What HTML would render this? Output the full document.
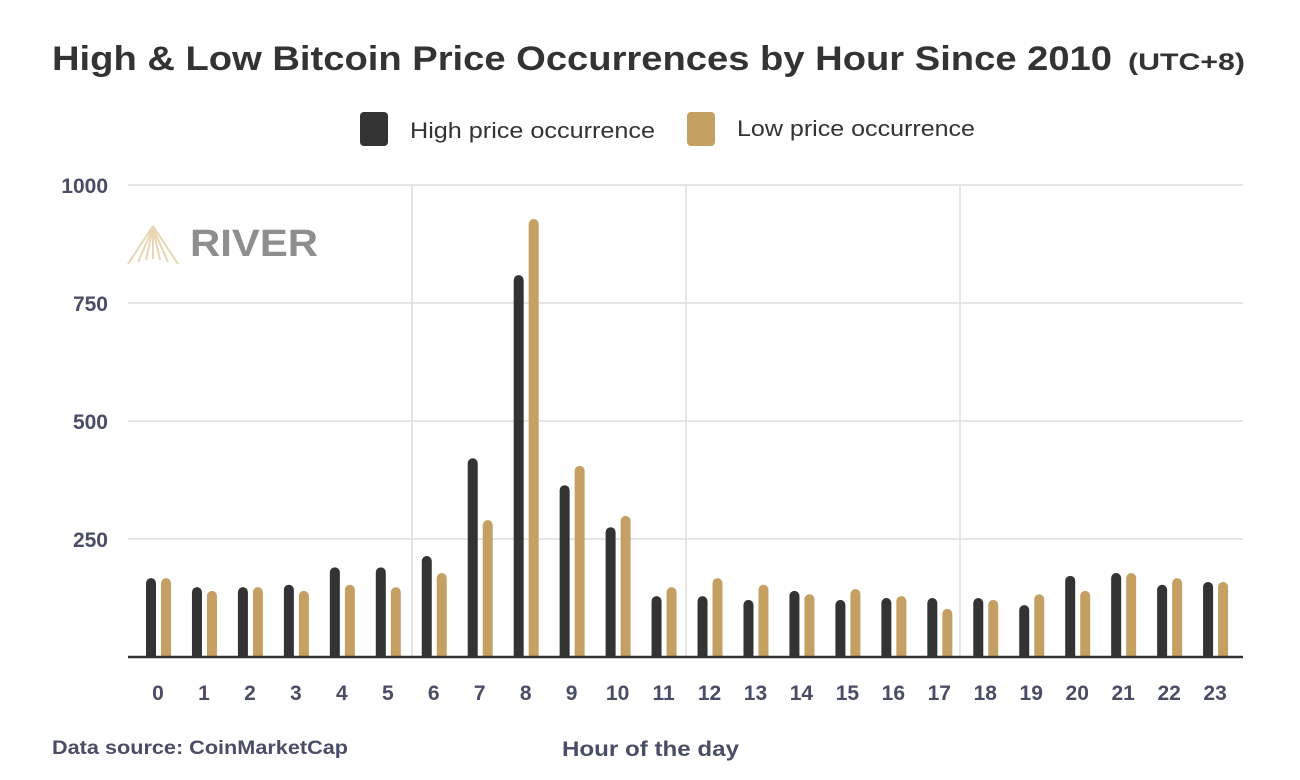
<!DOCTYPE html>
<html><head><meta charset="utf-8"><style>
body{margin:0;background:#fff;}
svg{display:block;font-family:"Liberation Sans",sans-serif;}
</style></head><body>
<svg width="1300" height="780" xmlns="http://www.w3.org/2000/svg">
<rect width="1300" height="780" fill="#fff"/>
<text x="52" y="70" font-size="34" font-weight="bold" fill="#333" textLength="1060" lengthAdjust="spacingAndGlyphs">High &amp; Low Bitcoin Price Occurrences by Hour Since 2010</text>
<text x="1128" y="70" font-size="24" font-weight="bold" fill="#333" textLength="117" lengthAdjust="spacingAndGlyphs">(UTC+8)</text>
<rect x="360" y="112" width="28" height="34" rx="4" fill="#333"/>
<text x="410" y="138" font-size="22" fill="#333" textLength="245" lengthAdjust="spacingAndGlyphs">High price occurrence</text>
<rect x="687" y="112" width="28" height="34" rx="4" fill="#c4a062"/>
<text x="737" y="136" font-size="22" fill="#333" textLength="238" lengthAdjust="spacingAndGlyphs">Low price occurrence</text>
<g stroke="#ddd" stroke-width="1.5">
<line x1="128" y1="185" x2="1243" y2="185"/>
<line x1="128" y1="303" x2="1243" y2="303"/>
<line x1="128" y1="421" x2="1243" y2="421"/>
<line x1="128" y1="539" x2="1243" y2="539"/>
<line x1="412" y1="185" x2="412" y2="657"/>
<line x1="686" y1="185" x2="686" y2="657"/>
<line x1="960" y1="185" x2="960" y2="657"/>
</g>
<g font-size="21" font-weight="bold" fill="#4a4d66" text-anchor="end">
<text x="108" y="193">1000</text><text x="108" y="311">750</text><text x="108" y="429">500</text><text x="108" y="547">250</text>
</g>
<g transform="translate(128,226)">
<g stroke="#e8d6b4" stroke-width="2" fill="none">
<line x1="25" y1="0" x2="0" y2="38"/><line x1="25" y1="0" x2="50" y2="38"/>
<line x1="25" y1="2" x2="10" y2="36"/><line x1="25" y1="2" x2="40" y2="36"/>
<line x1="25" y1="2" x2="18" y2="34"/><line x1="25" y1="2" x2="32" y2="34"/>
<line x1="25" y1="2" x2="25" y2="33"/>
</g>
</g>
<text x="190" y="256" font-size="38" font-weight="bold" fill="#8e8e8e" textLength="128" lengthAdjust="spacingAndGlyphs">RIVER</text>
<g id="bars"></g>
<line x1="128" y1="657" x2="1243" y2="657" stroke="#333" stroke-width="2.5"/>
<g id="xl" font-size="21" font-weight="bold" fill="#4a4d66" text-anchor="middle"></g>
<text x="52" y="754" font-size="19" font-weight="bold" fill="#4a4d66" textLength="296" lengthAdjust="spacingAndGlyphs">Data source: CoinMarketCap</text>
<text x="562" y="756" font-size="21" font-weight="bold" fill="#4a4d66" textLength="177" lengthAdjust="spacingAndGlyphs">Hour of the day</text>
</svg>
<script>
var H=[167,148,148,153,190,190,214,421,809,364,275,129,129,121,140,121,125,125,125,110,172,178,153,159];
var L=[167,140,148,140,153,148,178,290,928,405,299,148,167,153,133,144,129,102,121,133,140,178,167,159];
var ns="http://www.w3.org/2000/svg",b=document.getElementById("bars"),xl=document.getElementById("xl");
function bar(x,v,c){var h=v*0.472;var p=document.createElementNS(ns,"path");var y=657-h,r=5;
p.setAttribute("d","M"+x+" 657V"+(y+r)+"A"+r+" "+r+" 0 0 1 "+(x+10)+" "+(y+r)+"V657Z");p.setAttribute("fill",c);b.appendChild(p);}
for(var i=0;i<24;i++){var cx=158+i*45.96;bar(cx-12,H[i],"#333");bar(cx+3,L[i],"#c4a062");
var t=document.createElementNS(ns,"text");t.setAttribute("x",cx);t.setAttribute("y",700);t.textContent=i;xl.appendChild(t);}
</script>
</body></html>
